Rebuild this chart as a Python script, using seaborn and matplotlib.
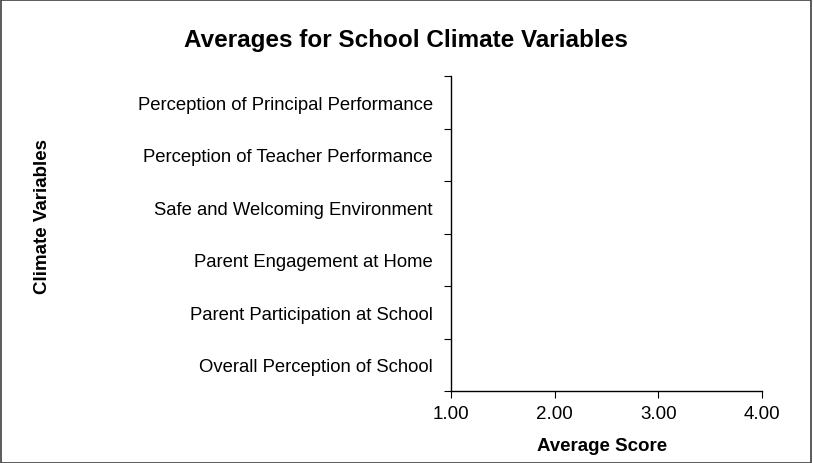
import numpy as np
import pandas as pd
import seaborn as sns
import matplotlib.pyplot as plt
from matplotlib.patches import Rectangle

# 기후 변수 (위에서 아래 순서)
variables = [
    "Perception of Principal Performance",
    "Perception of Teacher Performance",
    "Safe and Welcoming Environment",
    "Parent Engagement at Home",
    "Parent Participation at School",
    "Overall Perception of School",
]
# 원본 차트에 막대가 보이지 않음 -> 값 없음
scores = [0.0, 0.0, 0.0, 0.0, 0.0, 0.0]
x_ticks = [1.0, 2.0, 3.0, 4.0]

df = pd.DataFrame({"variable": variables, "score": scores})

sns.set_style("white")
plt.rcParams["font.family"] = ["Liberation Sans", "DejaVu Sans"]
plt.rcParams["text.color"] = "black"
plt.rcParams["xtick.color"] = "black"
plt.rcParams["ytick.color"] = "black"

fig = plt.figure(figsize=(8.13, 4.64), dpi=100)
ax = fig.add_axes([0.5547, 0.155, 0.3826, 0.679])

sns.barplot(data=df, x="score", y="variable", color="#9999ff", ax=ax)

ax.set_xlim(1, 4)
ax.set_ylim(len(variables) - 0.5, -0.5)
ax.set_xticks(x_ticks)
ax.set_xticklabels([f"{v:.2f}" for v in x_ticks], fontsize=13.5)
ax.set_yticks(range(len(variables)))
ax.set_yticklabels(variables, fontsize=13.3)
ax.set_yticks(np.arange(-0.5, len(variables)), minor=True)
ax.tick_params(axis="y", which="major", length=0, pad=13, labelcolor="black")
ax.tick_params(axis="y", which="minor", length=5, width=0.8, color="black", left=True)
ax.tick_params(axis="x", which="major", length=5, width=0.8, color="black",
               bottom=True, pad=5, labelcolor="black")

for side in ["top", "right"]:
    ax.spines[side].set_visible(False)
for side in ["left", "bottom"]:
    ax.spines[side].set_color("black")
    ax.spines[side].set_linewidth(1.0)

ax.set_xlabel("")
ax.set_ylabel("")
fig.text(0.741, 0.037, "Average Score", fontsize=13.5, fontweight="bold",
         ha="center", va="center", color="black")
fig.text(0.052, 0.533, "Climate Variables", rotation=90, fontsize=13.5,
         fontweight="bold", ha="center", va="center", color="black")
fig.text(0.499, 0.912, "Averages for School Climate Variables", fontsize=17.5,
         fontweight="bold", ha="center", va="center", color="black")

# 그림 테두리
fig.patches.append(Rectangle((0.001, 0.001), 0.997, 0.997, transform=fig.transFigure,
                             fill=False, edgecolor="#404040", linewidth=1.2))

fig.savefig("out.png", dpi=100)
